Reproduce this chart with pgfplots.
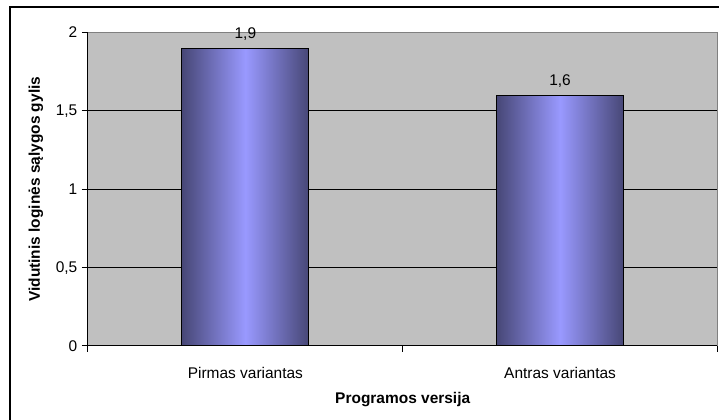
\documentclass[border=0pt]{standalone}
\usepackage{fontspec}
\setmainfont{Liberation Sans}
\usepackage{pgfplots}
\pgfplotsset{compat=1.18}
\definecolor{plotgray}{HTML}{C0C0C0}
\definecolor{bordergray}{HTML}{808080}
\definecolor{barlight}{HTML}{9999FF}
\definecolor{bardark}{HTML}{474776}
\newcommand{\lbl}{\fontsize{11.6}{13.9}\selectfont}
\begin{document}
\begin{tikzpicture}
\path[use as bounding box] (0,0) rectangle (539.25pt,315pt);
\begin{scope}
\clip (0,0) rectangle (539.25pt,315pt);
\draw[line width=1.5pt] (7.2pt,-5pt) -- (7.2pt,309.75pt) -- (545pt,309.75pt);
\end{scope}
\begin{axis}[
  at={(66pt,55.5pt)}, anchor=south west,
  width=472.1pt, height=235.1pt, scale only axis,
  ybar, bar width=95.25pt,
  xmin=-0.5, xmax=1.5, ymin=0, ymax=2,
  axis x line*=bottom, axis y line*=left,
  axis line style={-, black, line width=0.75pt},
  axis background/.style={fill=plotgray, draw=bordergray, line width=0.75pt},
  xtick={0,1}, xticklabels={Pirmas variantas, Antras variantas},
  major x tick style={draw=none},
  minor xtick={-0.5,0.5,1.5},
  ytick={0,0.5,1,1.5,2},
  major tick length=4.5pt, minor tick length=4.5pt,
  tick align=outside,
  tick style={black, line width=0.75pt},
  extra y ticks={0.5,1,1.5}, extra y tick labels={},
  extra y tick style={grid=major, major grid style={black, line width=0.75pt}},
  /pgf/number format/use comma,
  /pgf/number format/assume math mode=true,
  tick label style={font=\lbl},
  xticklabel style={yshift=-8pt},
  ylabel={Vidutinis loginės sąlygos gylis},
  xlabel={Programos versija},
  label style={font=\bfseries\lbl},
  xlabel style={at={(axis description cs:0.5,0)}, anchor=center, yshift=-40.5pt},
  ylabel style={at={(axis description cs:0,0.5)}, anchor=center, yshift=39pt},
]
\addplot[draw=black, line width=0.75pt, bar shift=0pt,
  left color=bardark, right color=bardark, middle color=barlight]
  coordinates {(0,1.9)};
\addplot[draw=black, line width=0.75pt, bar shift=0pt,
  left color=bardark, right color=bardark, middle color=barlight]
  coordinates {(1,1.6)};
\addplot[sharp plot, bar shift=0pt, draw=none, mark=none, forget plot,
  nodes near coords,
  nodes near coords style={font=\lbl, black, anchor=south, yshift=2.25pt,
    /pgf/number format/use comma, /pgf/number format/assume math mode=true}]
  coordinates {(0,1.9) (1,1.6)};
\end{axis}
\end{tikzpicture}
\end{document}
